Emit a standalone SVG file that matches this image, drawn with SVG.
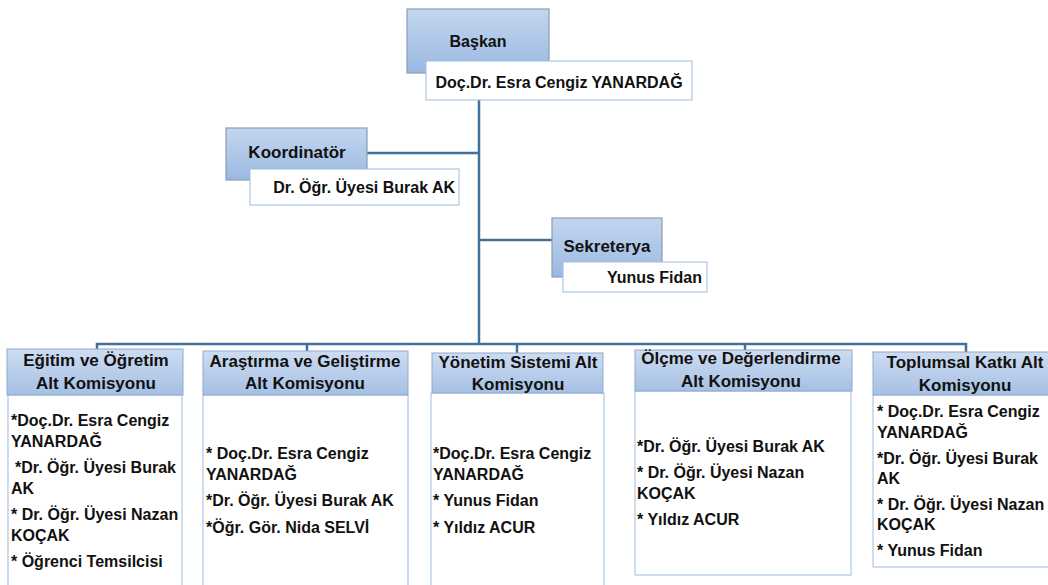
<svg xmlns="http://www.w3.org/2000/svg" width="1048" height="585" viewBox="0 0 1048 585">
<defs>
<linearGradient id="gTop" x1="0" y1="0" x2="0" y2="1">
<stop offset="0" stop-color="#c3d6ef"/>
<stop offset="1" stop-color="#9ab9e1"/>
</linearGradient>
<linearGradient id="gHead" x1="0" y1="0" x2="0" y2="1">
<stop offset="0" stop-color="#cddcf1"/>
<stop offset="1" stop-color="#a5c0e4"/>
</linearGradient>
</defs>
<style>
text{font-family:"Liberation Sans",Arial,sans-serif;font-weight:bold;fill:#111;}
.role{fill:url(#gTop);stroke:#8d9db3;stroke-width:1.2;}
.name{fill:#fff;stroke:#9dbbe0;stroke-width:1;}
.head{fill:url(#gHead);stroke:#8faacd;stroke-width:1;}
.body{fill:#fff;stroke:#9dbbe0;stroke-width:1;}
.t16{font-size:16px;}
.t17{font-size:17px;}
.th{font-size:17px;text-anchor:middle;}
.tb{font-size:16px;}
.c{text-anchor:middle;}
.e{text-anchor:end;}
.ln{stroke:#41709a;stroke-width:2.5;fill:none;}
</style>

<g id="connectors">
<path class="ln" d="M479 100 V344"/>
<path class="ln" d="M367 153 H479"/>
<path class="ln" d="M479 240 H552"/>
<path class="ln" d="M97 349 V344 H966 V352"/>
<path class="ln" d="M307 344 V351"/>
<path class="ln" d="M517 344 V353"/>
<path class="ln" d="M745 344 V350"/>
</g>

<g id="baskan">
<rect class="role" x="407" y="9" width="142" height="64"/>
<text class="t16 c" x="478" y="47">Başkan</text>
<rect class="name" x="426" y="61" width="266" height="39"/>
<text class="t16 c" x="559" y="88">Doç.Dr. Esra Cengiz YANARDAĞ</text>
</g>

<g id="koordinator">
<rect class="role" x="226" y="128" width="141" height="52"/>
<text class="t17 c" x="297" y="158">Koordinatör</text>
<rect class="name" x="250" y="169" width="209" height="36"/>
<text class="t16 e" x="455" y="193">Dr. Öğr. Üyesi Burak AK</text>
</g>

<g id="sekreterya">
<rect class="role" x="552" y="218" width="110" height="59"/>
<text class="t17 c" x="607" y="252">Sekreterya</text>
<rect class="name" x="563" y="262" width="144" height="30"/>
<text class="t16 e" x="702" y="283">Yunus Fidan</text>
</g>

<g id="egitim">
<rect class="body" x="8" y="395" width="174" height="200"/>
<rect class="head" x="7" y="349" width="176" height="46"/>
<text class="th" x="96" y="366">Eğitim ve Öğretim</text>
<text class="th" x="96" y="389">Alt Komisyonu</text>
<text class="tb" x="11" y="426">*Doç.Dr. Esra Cengiz</text>
<text class="tb" x="11" y="446.5">YANARDAĞ</text>
<text class="tb" x="15" y="473">*Dr. Öğr. Üyesi Burak</text>
<text class="tb" x="11" y="493.5">AK</text>
<text class="tb" x="11" y="520">* Dr. Öğr. Üyesi Nazan</text>
<text class="tb" x="11" y="540.5">KOÇAK</text>
<text class="tb" x="11" y="567">* Öğrenci Temsilcisi</text>
</g>

<g id="arastirma">
<rect class="body" x="203" y="395" width="205" height="200"/>
<rect class="head" x="203" y="351" width="205" height="44"/>
<text class="th" x="305" y="367">Araştırma ve Geliştirme</text>
<text class="th" x="305" y="389">Alt Komisyonu</text>
<text class="tb" x="206" y="459">* Doç.Dr. Esra Cengiz</text>
<text class="tb" x="206" y="479.5">YANARDAĞ</text>
<text class="tb" x="206" y="506">*Dr. Öğr. Üyesi Burak AK</text>
<text class="tb" x="206" y="532.5">*Öğr. Gör. Nida SELVİ</text>
</g>

<g id="yonetim">
<rect class="body" x="431" y="393" width="173" height="200"/>
<rect class="head" x="432" y="353" width="171" height="40"/>
<text class="th" x="518" y="368">Yönetim Sistemi Alt</text>
<text class="th" x="518" y="390">Komisyonu</text>
<text class="tb" x="433" y="459">*Doç.Dr. Esra Cengiz</text>
<text class="tb" x="433" y="479.5">YANARDAĞ</text>
<text class="tb" x="433" y="506">* Yunus Fidan</text>
<text class="tb" x="433" y="532.5">* Yıldız ACUR</text>
</g>

<g id="olcme">
<rect class="body" x="635" y="391" width="216" height="184"/>
<rect class="head" x="635" y="350" width="217" height="41"/>
<text class="th" x="741" y="364">Ölçme ve Değerlendirme</text>
<text class="th" x="741" y="387">Alt Komisyonu</text>
<text class="tb" x="637" y="452">*Dr. Öğr. Üyesi Burak AK</text>
<text class="tb" x="637" y="478">* Dr. Öğr. Üyesi Nazan</text>
<text class="tb" x="637" y="498.5">KOÇAK</text>
<text class="tb" x="637" y="525">* Yıldız ACUR</text>
</g>

<g id="toplumsal">
<rect class="body" x="873" y="395" width="180" height="172"/>
<rect class="head" x="873" y="352" width="180" height="43"/>
<text class="th" x="965" y="368">Toplumsal Katkı Alt</text>
<text class="th" x="965" y="391">Komisyonu</text>
<text class="tb" x="877" y="417">* Doç.Dr. Esra Cengiz</text>
<text class="tb" x="877" y="438">YANARDAĞ</text>
<text class="tb" x="877" y="464">*Dr. Öğr. Üyesi Burak</text>
<text class="tb" x="877" y="484">AK</text>
<text class="tb" x="877" y="510">* Dr. Öğr. Üyesi Nazan</text>
<text class="tb" x="877" y="530">KOÇAK</text>
<text class="tb" x="877" y="556">* Yunus Fidan</text>
</g>
</svg>
